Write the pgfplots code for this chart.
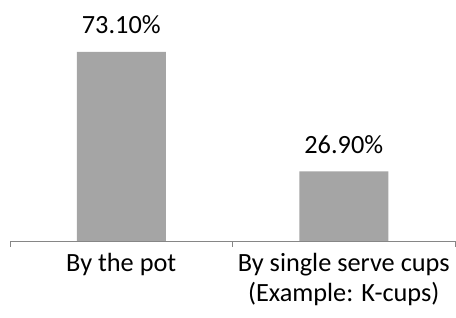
\documentclass[border=0pt]{standalone}
\usepackage{pgfplots}
\pgfplotsset{compat=1.18}
\usepackage{fontspec}
\setmainfont{Carlito}
\definecolor{barg}{HTML}{A5A5A5}
\definecolor{axg}{HTML}{868686}
\begin{document}
\begin{tikzpicture}[x=1pt,y=1pt]
\path[use as bounding box] (0,0) rectangle (456,318);
\begin{axis}[
 at={(10pt,77pt)}, anchor=south west,
 scale only axis, width=445pt, height=207pt,
 xmin=-0.5, xmax=1.5, ymin=0, ymax=80,
 axis x line=bottom, axis y line=none,
 x axis line style={-, axg, line width=0.9pt},
 xtick={0,1},
 xticklabels={By the pot, {By single serve cups\\(Example: K-cups)}},
 major tick length=0pt,
 tick align=outside,
 extra x ticks={-0.5,0.5,1.5},
 extra x tick labels={},
 extra x tick style={major tick length=6pt, tick style={draw=axg, line width=0.9pt}},
 xticklabel style={font=\fontsize{26.3}{30}\selectfont, align=center, anchor=north, inner sep=0pt, yshift=-12pt},
 ytick=\empty,
 ybar, bar width=89pt,
 nodes near coords={\pgfmathprintnumber[fixed,fixed zerofill,precision=2,assume math mode=true]{\pgfplotspointmeta}\%},
 nodes near coords style={font=\fontsize{26.3}{30}\selectfont, anchor=base, yshift=18pt, inner sep=0pt, text=black},
 clip=false,
]
\addplot[fill=barg, draw=none] coordinates {(0,73.1) (1,26.9)};
\end{axis}
\end{tikzpicture}
\end{document}
